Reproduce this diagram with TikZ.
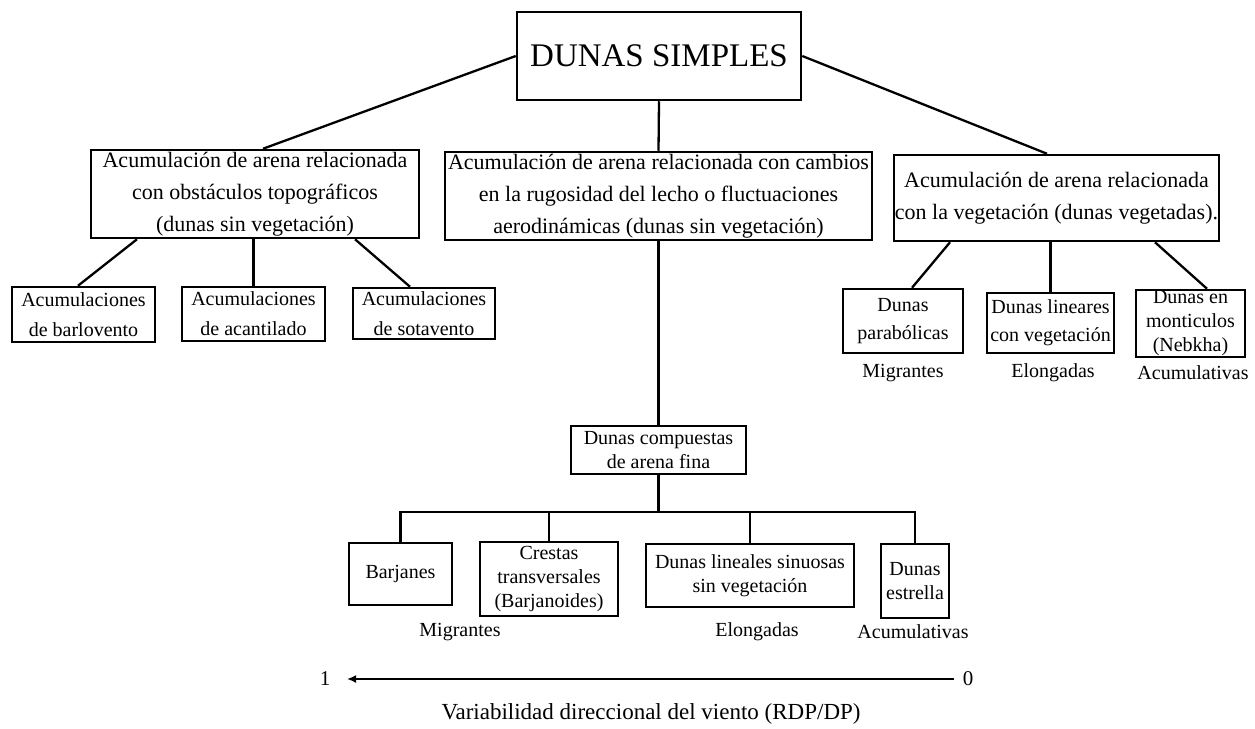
\documentclass[tikz,border=0pt]{standalone}
\usepackage{fontspec}
\setmainfont{Liberation Serif}
\usetikzlibrary{arrows.meta,calc}
\begin{document}
\begin{tikzpicture}[x=1pt,y=-1pt,
  box/.style={draw, line width=2.5pt, inner sep=0pt, align=center, font=\fontsize{22}{32}\selectfont},
  sbox/.style={box, font=\fontsize{20}{30}\selectfont},
  tbox/.style={box, font=\fontsize{20}{24}\selectfont},
  lbl/.style={inner sep=0pt, font=\fontsize{20}{24}\selectfont},
  conn/.style={line width=2.3pt}]
\useasboundingbox (0,0) rectangle (1255,728);
\fill[white] (0,0) rectangle (1255,728);
% top
\node[box, font=\fontsize{33}{36}\selectfont, minimum width=284pt, minimum height=88pt] (T) at (659,56) {DUNAS SIMPLES};
% second level
\node[box, minimum width=328pt, minimum height=88pt] (A) at (255,194) {Acumulación de arena relacionada\\con obstáculos topográficos\\(dunas sin vegetación)};
\node[box, minimum width=427pt, minimum height=88pt] (B) at (658.5,196) {Acumulación de arena relacionada con cambios\\en la rugosidad del lecho o fluctuaciones\\aerodinámicas (dunas sin vegetación)};
\node[box, minimum width=325pt, minimum height=86pt] (C) at (1056.5,198) {Acumulación de arena relacionada\\con la vegetación (dunas vegetadas).};
% children of A
\node[sbox, minimum width=143pt, minimum height=55pt] (A1) at (83.5,314.5) {Acumulaciones\\de barlovento};
\node[sbox, minimum width=143pt, minimum height=54pt] (A2) at (253.5,314) {Acumulaciones\\de acantilado};
\node[sbox, minimum width=142pt, minimum height=51pt] (A3) at (424,313.5) {Acumulaciones\\de sotavento};
% children of C
\node[sbox, font=\fontsize{20}{28}\selectfont, minimum width=120pt, minimum height=64pt] (C1) at (903,321) {Dunas\\parabólicas};
\node[sbox, font=\fontsize{20}{28}\selectfont, minimum width=127pt, minimum height=60pt] (C2) at (1050.5,323) {Dunas lineares\\con vegetación};
\node[tbox, minimum width=109pt, minimum height=67pt] (C3) at (1190.5,323.5) {Dunas en\\monticulos\\(Nebkha)};
\node[lbl] (m1) at (903,373) {Migrantes};
\node[lbl] (e1) at (1053,373) {Elongadas};
\node[lbl] (a1) at (1193,373) {Acumulativas};
% compound
\node[tbox, minimum width=175pt, minimum height=48pt] (K) at (658.5,450) {Dunas compuestas\\de arena fina};
\node[tbox, minimum width=103pt, minimum height=62pt] (L1) at (400.5,574) {Barjanes};
\node[tbox, minimum width=138pt, minimum height=74pt] (L2) at (549,579) {Crestas\\transversales\\(Barjanoides)};
\node[tbox, minimum width=208pt, minimum height=63pt] (L3) at (750,575.5) {Dunas lineales sinuosas\\sin vegetación};
\node[tbox, minimum width=68pt, minimum height=74pt] (L4) at (915,581) {Dunas\\estrella};
\node[lbl] (m2) at (460,632) {Migrantes};
\node[lbl] (e2) at (757,632) {Elongadas};
\node[lbl] (a2) at (913,632) {Acumulativas};
\coordinate (bus) at (658.5,512);
% axis
\node[lbl, font=\fontsize{21}{26}\selectfont] (one) at (325,679) {1};
\node[lbl, font=\fontsize{21}{26}\selectfont] (zero) at (968,679) {0};
\node[lbl, font=\fontsize{23}{26}\selectfont] (var) at (651,714) {Variabilidad direccional del viento (RDP/DP)};
% connectors
\draw[conn] (T.west) -- ([xshift=8pt]A.north);
\draw[conn] (T.south) -- (B.north);
\draw[conn] (T.east) -- ([xshift=-9.5pt]C.north);
\draw[conn] ([xshift=-118pt]A.south) -- ([xshift=-5.5pt]A1.north);
\draw[conn] (A2.north) -- (A2.north |- A.south);
\draw[conn] ([xshift=100pt]A.south) -- ([xshift=-14pt]A3.north);
\draw[conn] ([xshift=-106.5pt]C.south) -- ([xshift=9pt]C1.north);
\draw[conn] (C2.north) -- (C2.north |- C.south);
\draw[conn] ([xshift=98.5pt]C.south) -- ([xshift=16.5pt]C3.north);
\draw[conn] (B.south) -- (K.north);
\draw[conn] (K.south) -- (bus);
\draw[conn] (L1.north) |- (bus) -| (L4.north);
\draw[conn] (L2.north) -- (L2.north |- bus);
\draw[conn] (L3.north) -- (L3.north |- bus);
\draw[conn, -{Latex[length=9pt,width=8pt]}, shorten <=14pt, shorten >=22pt] (zero.center) -- (one.center);
\end{tikzpicture}
\end{document}
